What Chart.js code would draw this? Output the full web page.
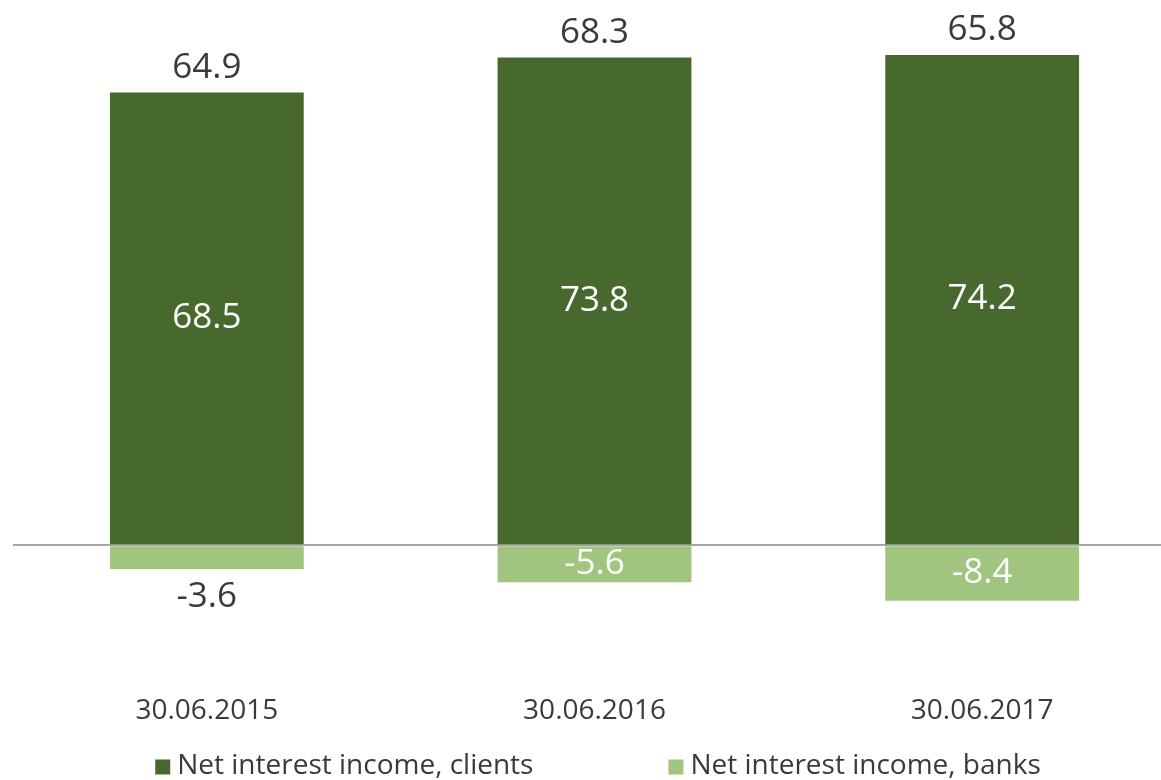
<!DOCTYPE html>
<html>
<head>
<meta charset="utf-8">
<script src="https://cdn.jsdelivr.net/npm/chart.js@4"></script>
<style>
  html, body { margin: 0; padding: 0; background: #fff; overflow: hidden; }
  #wrap { width: 1176px; height: 780px; }
</style>
</head>
<body>
<div id="wrap"><canvas id="chart" width="1176" height="780"></canvas></div>
<script>
const categories = ['30.06.2015', '30.06.2016', '30.06.2017']
const clients = [68.5, 73.8, 74.2]
const banks = [-3.6, -5.6, -8.4]
const totals = [64.9, 68.3, 65.8]

const darkGreen = '#48692e'
const lightGreen = '#a1c57f'
const textColor = '#3a3a3a'
const fontFamily = '"Open Sans", sans-serif'

// value labels: totals above, clients inside, banks inside or below when the bar is thin
const labelPlugin = {
  id: 'valueLabels',
  afterDatasetsDraw(chart) {
    const ctx = chart.ctx
    ctx.save()
    ctx.font = '35px ' + fontFamily
    ctx.textAlign = 'center'
    ctx.textBaseline = 'middle'

    const clientBars = chart.getDatasetMeta(0).data
    const bankBars = chart.getDatasetMeta(1).data

    clientBars.forEach((bar, i) => {
      ctx.fillStyle = '#fff'
      ctx.fillText(clients[i].toFixed(1), bar.x, (bar.y + bar.base) / 2)
      ctx.fillStyle = textColor
      ctx.fillText(totals[i].toFixed(1), bar.x, bar.y - 25)
    })

    bankBars.forEach((bar, i) => {
      const h = Math.abs(bar.y - bar.base)
      const label = banks[i].toFixed(1)
      if (h > 32) {
        ctx.fillStyle = '#fff'
        ctx.fillText(label, bar.x, (bar.y + bar.base) / 2)
      } else {
        ctx.fillStyle = textColor
        ctx.fillText(label, bar.x, bar.y + 28)
      }
    })
    ctx.restore()
  }
}

// legend drawn by hand so the two entries can sit far apart like the original
const legendPlugin = {
  id: 'wideLegend',
  afterDraw(chart) {
    const ctx = chart.ctx
    const sets = chart.data.datasets
    const box = 15, gapText = 7, gapItems = 135
    ctx.save()
    ctx.font = '28px ' + fontFamily
    ctx.textBaseline = 'middle'
    const widths = sets.map(ds => box + gapText + ctx.measureText(ds.label).width)
    const total = widths.reduce((a, b) => a + b, 0) + gapItems * (sets.length - 1)
    let x = 598 - total / 2
    const y = 767
    sets.forEach((ds, i) => {
      ctx.fillStyle = ds.backgroundColor
      ctx.fillRect(x, y - box / 2, box, box)
      ctx.fillStyle = textColor
      ctx.fillText(ds.label, x + box + gapText, y - 1)
      x += widths[i] + gapItems
    })
    ctx.restore()
  }
}

new Chart(document.getElementById('chart'), {
  type: 'bar',
  data: {
    labels: categories,
    datasets: [
      {
        label: 'Net interest income, clients',
        data: clients,
        backgroundColor: darkGreen,
        categoryPercentage: 1,
        barPercentage: 0.5
      },
      {
        label: 'Net interest income, banks',
        data: banks,
        backgroundColor: lightGreen,
        categoryPercentage: 1,
        barPercentage: 0.5
      }
    ]
  },
  options: {
    responsive: false,
    animation: false,
    layout: { padding: { left: 13, right: 0, top: 6, bottom: 21 } },
    scales: {
      x: {
        stacked: true,
        grid: { display: false, drawTicks: false },
        border: { display: false },
        ticks: {
          color: textColor,
          font: { family: fontFamily, size: 28 },
          padding: 31
        }
      },
      y: {
        stacked: true,
        min: -17.9,
        max: 81.6,
        border: { display: false },
        ticks: { display: false, stepSize: 1 },
        grid: {
          drawTicks: false,
          color: (c) => c.tick && c.tick.value === 0 ? '#a6a6a6' : 'rgba(0,0,0,0)',
          lineWidth: 2
        }
      }
    },
    plugins: {
      legend: { display: false },
      tooltip: { enabled: false }
    }
  },
  plugins: [labelPlugin, legendPlugin]
})
</script>
</body>
</html>
